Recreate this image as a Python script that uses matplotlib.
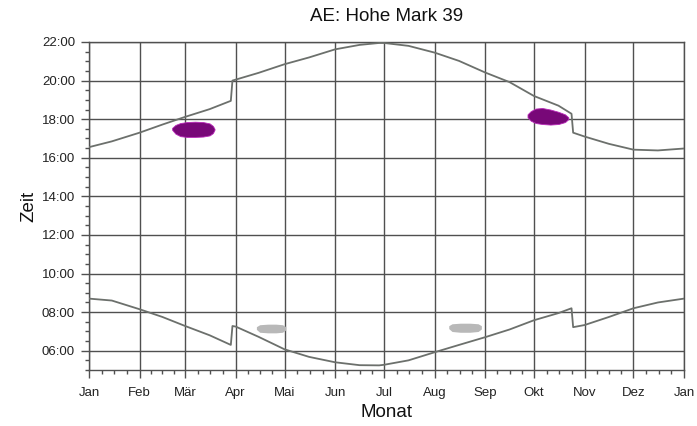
import matplotlib
matplotlib.use("Agg")
import matplotlib.pyplot as plt
from matplotlib.ticker import FuncFormatter, MultipleLocator, FixedLocator

plt.rcParams['font.family'] = ['Liberation Sans', 'DejaVu Sans']

# Month boundaries (day of year) and labels
month_starts = [0, 31, 59, 90, 120, 151, 181, 212, 243, 273, 304, 334, 365]
month_labels = ["Jan", "Feb", "Mär", "Apr", "Mai", "Jun", "Jul", "Aug", "Sep", "Okt", "Nov", "Dez", "Jan"]

# Sunset / sunrise (hours, local time incl. DST)
curve_days = [0, 14, 31, 45, 59, 74, 87, 88, 90, 104, 120, 135, 151, 166, 178, 181,
              196, 212, 227, 243, 258, 273, 288, 296, 297, 304, 319, 334, 349, 365]
sunset = [16.55, 16.85, 17.3, 17.72, 18.12, 18.52, 18.95, 20.0, 20.05, 20.4, 20.85, 21.2,
          21.62, 21.85, 21.95, 21.95, 21.8, 21.45, 21.02, 20.42, 19.92, 19.2, 18.7, 18.28,
          17.3, 17.1, 16.72, 16.42, 16.38, 16.48]
sunrise = [8.7, 8.6, 8.15, 7.75, 7.28, 6.8, 6.3, 7.28, 7.25, 6.72, 6.07, 5.68, 5.4, 5.25,
           5.24, 5.27, 5.5, 5.92, 6.3, 6.7, 7.1, 7.58, 7.95, 8.2, 7.22, 7.33, 7.75, 8.2,
           8.5, 8.7]

# Shadow periods (day, start, end)
sh1_days = [51, 53, 56, 60, 65, 70, 74, 76, 77]
sh1_start = [17.45, 17.25, 17.12, 17.08, 17.08, 17.1, 17.16, 17.28, 17.45]
sh1_end = [17.55, 17.7, 17.8, 17.85, 17.87, 17.85, 17.78, 17.65, 17.5]

sh2_days = [269, 271, 274, 278, 283, 288, 292, 294]
sh2_start = [18.1, 17.92, 17.8, 17.75, 17.72, 17.75, 17.85, 18.0]
sh2_end = [18.25, 18.42, 18.55, 18.58, 18.5, 18.38, 18.25, 18.1]

sh3_days = [103, 105, 110, 115, 119, 121]
sh3_start = [7.08, 6.93, 6.9, 6.9, 6.93, 7.05]
sh3_end = [7.22, 7.32, 7.35, 7.35, 7.32, 7.22]

sh4_days = [221, 223, 228, 234, 239, 241]
sh4_start = [7.12, 6.97, 6.93, 6.93, 6.97, 7.1]
sh4_end = [7.27, 7.37, 7.4, 7.4, 7.37, 7.27]

fig = plt.figure(figsize=(6.97, 4.26), dpi=100)
ax = fig.add_axes([89/697, 1-370/426, (684-89)/697, (370-42)/426])

grid_c = '#505050'
line_c = '#6c706c'

ax.plot(curve_days, sunset, color=line_c, lw=1.3, zorder=3)
ax.plot(curve_days, sunrise, color=line_c, lw=1.3, zorder=3)

ax.fill_between(sh1_days, sh1_start, sh1_end, facecolor='#780878', edgecolor='#b828b8', lw=0.6, zorder=4)
ax.fill_between(sh2_days, sh2_start, sh2_end, facecolor='#780878', edgecolor='#b828b8', lw=0.6, zorder=4)
ax.fill_between(sh3_days, sh3_start, sh3_end, facecolor='#b8b8b8', edgecolor='none', zorder=4)
ax.fill_between(sh4_days, sh4_start, sh4_end, facecolor='#b8b8b8', edgecolor='none', zorder=4)

ax.set_xlim(0, 365)
ax.set_ylim(5.0, 22.0)

ax.xaxis.set_major_locator(FixedLocator(month_starts))
ax.set_xticklabels(month_labels)
minor = []
for a, b in zip(month_starts[:-1], month_starts[1:]):
    for f in (0.25, 0.5, 0.75):
        minor.append(a + f * (b - a))
ax.xaxis.set_minor_locator(FixedLocator(minor))

ax.yaxis.set_major_locator(FixedLocator(list(range(6, 23, 2))))
ax.yaxis.set_minor_locator(MultipleLocator(0.5))
ax.yaxis.set_major_formatter(FuncFormatter(lambda v, p: f"{int(round(v)):02d}:00"))

ax.grid(True, which='major', color=grid_c, lw=1.0, zorder=1)
for s in ax.spines.values():
    s.set_color(grid_c)
    s.set_linewidth(1.0)

ax.tick_params(axis='both', which='major', length=6, width=1.0, color=grid_c,
               labelsize=9.5, labelcolor='#222222')
ax.tick_params(axis='both', which='minor', length=3, width=1.0, color=grid_c)
ax.tick_params(axis='x', pad=6)
ax.tick_params(axis='y', pad=4)

ax.set_title("AE: Hohe Mark 39", fontsize=13.5, color='#111111', pad=15)
ax.set_xlabel("Monat", fontsize=13.5, color='#111111', labelpad=4)
ax.set_ylabel("Zeit", fontsize=13.5, color='#111111', labelpad=3)

fig.savefig("out.png", dpi=100, facecolor='white')
